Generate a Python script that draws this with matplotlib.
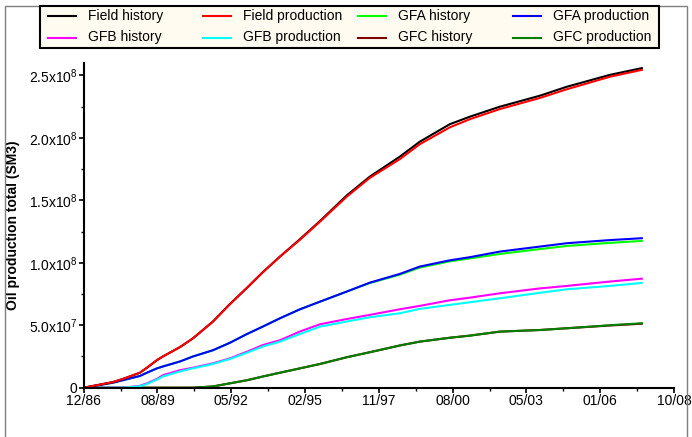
import numpy as np
import matplotlib
matplotlib.use("Agg")
import matplotlib.pyplot as plt
from matplotlib.patches import Rectangle
from matplotlib.lines import Line2D

plt.rcParams['font.family'] = ['Liberation Sans', 'DejaVu Sans']
plt.rcParams['mathtext.fontset'] = 'custom'
plt.rcParams['mathtext.rm'] = 'Liberation Sans'
plt.rcParams['mathtext.it'] = 'Liberation Sans:italic'
plt.rcParams['mathtext.bf'] = 'Liberation Sans:bold'

# decimal years (x axis)
years = [1986.93, 1988.00, 1988.37, 1989.00, 1989.26, 1989.63, 1989.85, 1990.48,
         1990.96, 1991.70, 1992.33, 1992.96, 1993.55, 1994.18, 1994.92, 1995.66,
         1996.65, 1997.50, 1998.61, 1999.35, 2000.46, 2001.20, 2002.31, 2003.79,
         2004.79, 2006.38, 2007.56]

# cumulative oil, units of 1e8 SM3
field_hist = [0, 0.045, 0.07, 0.12, 0.16, 0.22, 0.25, 0.325, 0.395, 0.53, 0.67, 0.80,
              0.926, 1.05, 1.19, 1.335, 1.54, 1.69, 1.85, 1.97, 2.11, 2.17, 2.25,
              2.338, 2.41, 2.505, 2.559]
field_prod = [0, 0.045, 0.07, 0.12, 0.16, 0.222, 0.25, 0.325, 0.395, 0.529, 0.67, 0.80,
              0.926, 1.05, 1.185, 1.33, 1.53, 1.68, 1.83, 1.95, 2.085, 2.15, 2.231,
              2.32, 2.39, 2.49, 2.545]
gfa_hist = [0, 0.04, 0.06, 0.094, 0.12, 0.155, 0.17, 0.21, 0.25, 0.30, 0.36, 0.43,
            0.49, 0.556, 0.628, 0.689, 0.77, 0.838, 0.905, 0.962, 1.012, 1.035, 1.071,
            1.11, 1.135, 1.16, 1.175]
gfa_prod = [0, 0.04, 0.06, 0.094, 0.12, 0.155, 0.17, 0.21, 0.25, 0.30, 0.36, 0.43,
            0.49, 0.556, 0.628, 0.689, 0.77, 0.841, 0.911, 0.97, 1.02, 1.045, 1.09,
            1.13, 1.157, 1.182, 1.197]
gfb_hist = [0, 0, 0, 0.015, 0.035, 0.07, 0.10, 0.14, 0.16, 0.195, 0.235, 0.288,
            0.342, 0.38, 0.45, 0.508, 0.55, 0.583, 0.628, 0.655, 0.70, 0.721, 0.756,
            0.795, 0.815, 0.85, 0.873]
gfb_prod = [0, 0, 0, 0.012, 0.03, 0.065, 0.09, 0.13, 0.155, 0.19, 0.23, 0.28,
            0.33, 0.369, 0.43, 0.489, 0.53, 0.564, 0.596, 0.631, 0.663, 0.684, 0.716,
            0.76, 0.788, 0.815, 0.839]
gfc_hist = [0, 0, 0, 0, 0, 0, 0, 0, 0, 0.01, 0.035, 0.06, 0.09, 0.12, 0.155, 0.19,
            0.244, 0.284, 0.338, 0.369, 0.40, 0.417, 0.449, 0.462, 0.476, 0.498, 0.512]
gfc_prod = [0, 0, 0, 0, 0, 0, 0, 0, 0, 0.01, 0.035, 0.06, 0.09, 0.12, 0.155, 0.19,
            0.244, 0.284, 0.338, 0.369, 0.40, 0.417, 0.449, 0.462, 0.476, 0.50, 0.516]

labels = ["Field history", "Field production", "GFA history", "GFA production",
          "GFB history", "GFB production", "GFC history", "GFC production"]
colors = ["#000000", "#ff0000", "#00ff00", "#0000ff",
          "#ff00ff", "#00ffff", "#800000", "#008000"]
series = [field_hist, field_prod, gfa_hist, gfa_prod,
          gfb_hist, gfb_prod, gfc_hist, gfc_prod]

xtick_labels = ["12/86", "08/89", "05/92", "02/95", "11/97", "08/00", "05/03", "01/06", "10/08"]
x_start, x_end = 1986.92, 2008.75
ytick_vals = [0, 0.5, 1.0, 1.5, 2.0, 2.5]
ytick_labels = ["0", "5.0x10$^7$", "1.0x10$^8$", "1.5x10$^8$", "2.0x10$^8$", "2.5x10$^8$"]

W, H = 692, 437
fig = plt.figure(figsize=(W / 100, H / 100), dpi=100)
ax = fig.add_axes([83.7 / W, (H - 387.7) / H, (674 - 83.7) / W, (387.7 - 63) / H])

# draw order: lower groups first, production over history
for order in [6, 7, 4, 5, 2, 3, 0, 1]:
    ax.plot(years, series[order], color=colors[order], lw=1.5)

ax.set_xlim(x_start, x_end)
ax.set_ylim(0, 2.6)
xt = np.linspace(x_start, x_end, len(xtick_labels))
ax.set_xticks(xt)
ax.set_xticklabels(xtick_labels)
ax.set_xticks((xt[:-1] + xt[1:]) / 2, minor=True)
ax.set_yticks(ytick_vals)
ax.set_yticklabels(ytick_labels)
ax.set_yticks(np.arange(0.25, 2.6, 0.5), minor=True)

for s in ["top", "right"]:
    ax.spines[s].set_visible(False)
for s in ["left", "bottom"]:
    ax.spines[s].set_linewidth(1.5)
ax.tick_params(which="major", direction="out", length=3.5, width=1.2, labelsize=10, pad=1)
ax.tick_params(which="minor", direction="out", length=2, width=1.0)
ax.set_ylabel("Oil production total (SM3)", fontsize=10, fontweight="bold", labelpad=6)

# outer gray frame
fig.add_artist(Rectangle((5 / W, -0.02), (687 - 5) / W, (H - 6) / H + 0.02,
                         transform=fig.transFigure, fill=False, edgecolor="#7f7f7f", lw=1))

# legend box, drawn in pixel positions
def fx(px):
    return px / W

def fy(py):
    return 1 - py / H

fig.add_artist(Rectangle((fx(40), fy(48)), fx(659) - fx(40), fy(6) - fy(48),
                         transform=fig.transFigure, facecolor="#fffbf0",
                         edgecolor="black", lw=1.5))
for i, (lab, col) in enumerate(zip(labels, colors)):
    c = i % 4
    r = i // 4
    x0 = 48 + 155 * c
    yc = 16 + 21.5 * r
    fig.add_artist(Line2D([fx(x0), fx(x0 + 28)], [fy(yc), fy(yc)],
                          transform=fig.transFigure, color=col, lw=1.5))
    fig.text(fx(x0 + 40), fy(yc), lab, fontsize=10, va="center", ha="left")

fig.savefig("out.png", dpi=100)
